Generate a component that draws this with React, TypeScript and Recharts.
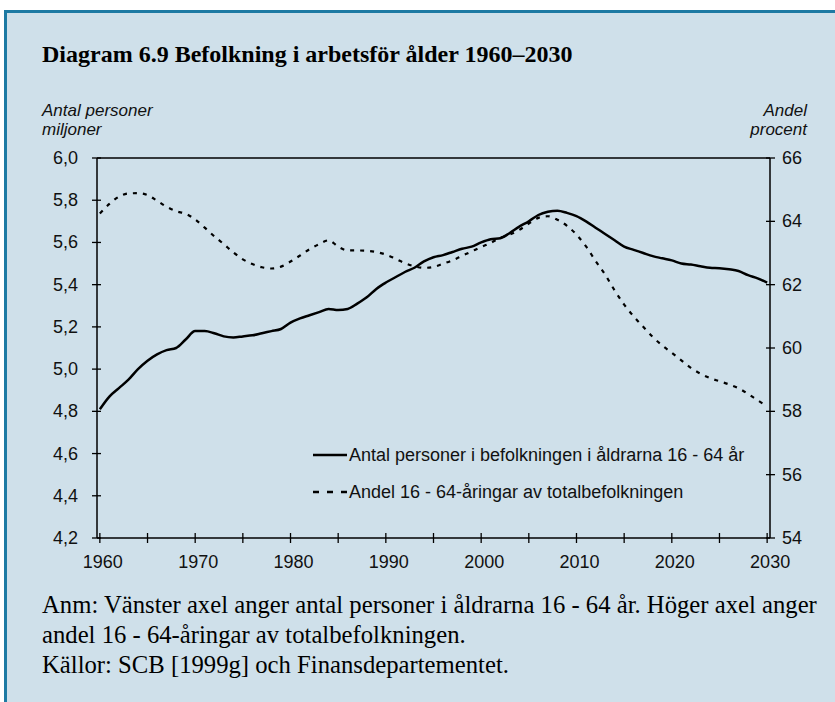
import React from 'react';
import { Legend, Line, LineChart, ReferenceLine, XAxis, YAxis } from 'recharts';

const years = [
  1960, 1961, 1962, 1963, 1964, 1965, 1966, 1967, 1968, 1969,
  1970, 1971, 1972, 1973, 1974, 1975, 1976, 1977, 1978, 1979,
  1980, 1981, 1982, 1983, 1984, 1985, 1986, 1987, 1988, 1989,
  1990, 1991, 1992, 1993, 1994, 1995, 1996, 1997, 1998, 1999,
  2000, 2001, 2002, 2003, 2004, 2005, 2006, 2007, 2008, 2009,
  2010, 2011, 2012, 2013, 2014, 2015, 2016, 2017, 2018, 2019,
  2020, 2021, 2022, 2023, 2024, 2025, 2026, 2027, 2028, 2029,
  2030,
];

// miljoner personer 16-64 år (vänster axel)
const antalPersoner = [
  4.81, 4.87, 4.91, 4.95, 5.0, 5.04, 5.07, 5.09, 5.1, 5.14,
  5.18, 5.18, 5.17, 5.155, 5.15, 5.155, 5.16, 5.17, 5.18, 5.19,
  5.22, 5.24, 5.255, 5.27, 5.285, 5.28, 5.285, 5.31, 5.34, 5.38,
  5.41, 5.435, 5.46, 5.48, 5.51, 5.53, 5.54, 5.555, 5.57, 5.58,
  5.6, 5.615, 5.62, 5.645, 5.675, 5.7, 5.73, 5.745, 5.75, 5.74,
  5.725, 5.7, 5.67, 5.64, 5.61, 5.58, 5.565, 5.55, 5.535, 5.525,
  5.515, 5.5, 5.495, 5.487, 5.48, 5.478, 5.473, 5.465, 5.445, 5.43,
  5.41,
];

// andel i procent av totalbefolkningen (höger axel)
const andelProcent = [
  64.25, 64.55, 64.78, 64.88, 64.89, 64.83, 64.65, 64.46, 64.32, 64.24,
  64.06, 63.8, 63.53, 63.28, 63.02, 62.8, 62.65, 62.55, 62.51, 62.57,
  62.73, 62.92, 63.12, 63.28, 63.4, 63.2, 63.08, 63.08, 63.07, 63.03,
  62.95, 62.82, 62.68, 62.58, 62.53, 62.56, 62.66, 62.77, 62.91, 63.05,
  63.19, 63.32, 63.48, 63.58, 63.73, 63.93, 64.11, 64.16, 64.05, 63.86,
  63.58, 63.21, 62.75, 62.32, 61.82, 61.37, 61.0, 60.67, 60.35, 60.08,
  59.85, 59.61, 59.37, 59.19, 59.05, 58.95, 58.85, 58.73, 58.55, 58.35,
  58.16,
];

const xTicks = [1960, 1965, 1970, 1975, 1980, 1985, 1990, 1995, 2000, 2005, 2010, 2015, 2020, 2025, 2030];
const leftTicks = [4.2, 4.4, 4.6, 4.8, 5.0, 5.2, 5.4, 5.6, 5.8, 6.0];
const rightTicks = [54, 56, 58, 60, 62, 64, 66];

const seriesNames = [
  'Antal personer i befolkningen i åldrarna 16 - 64 år',
  'Andel 16 - 64-åringar av totalbefolkningen',
];

const data = years.map((year, i) => ({
  year,
  antal: antalPersoner[i],
  andel: andelProcent[i],
}));

const SANS = '"Liberation Sans", Arial, sans-serif';
const SERIF = '"Liberation Serif", "Times New Roman", serif';
const BG = '#cfe0ea';
const FRAME = '#1d7aa3';

const XTick = (props: any) => {
  const { x, y, payload } = props;
  const showLabel = payload.value % 10 === 0;
  return (
    <g>
      <line x1={x} x2={x} y1={y - 5} y2={y + 5} stroke="#000" strokeWidth={1.3} />
      {showLabel && (
        <text x={x + 3} y={y + 30} textAnchor="middle" fontSize={18} fontFamily={SANS} fill="#111">
          {payload.value}
        </text>
      )}
    </g>
  );
};

const LeftTick = (props: any) => {
  const { x, y, payload } = props;
  return (
    <g>
      <line x1={x - 5} x2={x + 4} y1={y} y2={y} stroke="#000" strokeWidth={1.3} />
      <text x={x - 19} y={y + 6} textAnchor="end" fontSize={18} fontFamily={SANS} fill="#111">
        {payload.value.toFixed(1).replace('.', ',')}
      </text>
    </g>
  );
};

const RightTick = (props: any) => {
  const { x, y, payload } = props;
  return (
    <g>
      <line x1={x - 4} x2={x + 5} y1={y} y2={y} stroke="#000" strokeWidth={1.3} />
      <text x={x + 12} y={y + 6} textAnchor="start" fontSize={18} fontFamily={SANS} fill="#111">
        {payload.value}
      </text>
    </g>
  );
};

const LegendBox = () => (
  <div style={{ fontFamily: SANS, fontSize: 18, color: '#111' }}>
    <div style={{ display: 'flex', alignItems: 'center', height: 20 }}>
      <svg width={36} height={10}>
        <line x1={0} x2={34} y1={5} y2={5} stroke="#000" strokeWidth={2.5} />
      </svg>
      <span>{seriesNames[0]}</span>
    </div>
    <div style={{ display: 'flex', alignItems: 'center', height: 20, marginTop: 17 }}>
      <svg width={36} height={10}>
        <line x1={0} x2={34} y1={5} y2={5} stroke="#000" strokeWidth={2.5} strokeDasharray="6 8" />
      </svg>
      <span>{seriesNames[1]}</span>
    </div>
  </div>
);

const axisTitle: React.CSSProperties = {
  position: 'absolute',
  top: 101,
  fontFamily: SANS,
  fontStyle: 'italic',
  fontSize: 17,
  lineHeight: '19px',
  color: '#111',
};

export default function App() {
  return (
    <div style={{ position: 'relative', width: 835, height: 702, overflow: 'hidden', background: '#fff' }}>
      <style>{'body{margin:0}'}</style>
      <div
        style={{
          position: 'absolute',
          left: 4,
          top: 10,
          width: 900,
          height: 800,
          background: BG,
          borderLeft: `3px solid ${FRAME}`,
          borderTop: `3px solid ${FRAME}`,
        }}
      />
      <div
        style={{
          position: 'absolute',
          left: 42,
          top: 42,
          fontFamily: SERIF,
          fontWeight: 'bold',
          fontSize: 24,
          lineHeight: 1,
          color: '#000',
          whiteSpace: 'nowrap',
        }}
      >
        Diagram 6.9 Befolkning i arbetsför ålder 1960–2030
      </div>
      <div style={{ ...axisTitle, left: 42 }}>
        Antal personer
        <br />
        miljoner
      </div>
      <div style={{ ...axisTitle, right: 835 - 807, textAlign: 'right' }}>
        Andel
        <br />
        procent
      </div>

      <div style={{ position: 'absolute', left: 0, top: 0 }}>
        <LineChart width={835} height={600} data={data} margin={{ top: 158, right: 0, bottom: 32, left: 0 }}>
          <XAxis
            dataKey="year"
            type="number"
            domain={[1959.7, 2030.3]}
            ticks={xTicks}
            interval={0}
            height={30}
            stroke="#000"
            strokeWidth={1.5}
            tickLine={false}
            tickSize={0}
            tickMargin={0}
            tick={XTick}
            allowDataOverflow
          />
          <YAxis
            yAxisId="left"
            orientation="left"
            domain={[4.2, 6.0]}
            ticks={leftTicks}
            interval={0}
            width={97}
            stroke="#000"
            strokeWidth={1.5}
            tickLine={false}
            tickSize={0}
            tickMargin={0}
            tick={LeftTick}
            allowDataOverflow
          />
          <YAxis
            yAxisId="right"
            orientation="right"
            domain={[54, 66]}
            ticks={rightTicks}
            interval={0}
            width={65}
            stroke="#000"
            strokeWidth={1.5}
            tickLine={false}
            tickSize={0}
            tickMargin={0}
            tick={RightTick}
            allowDataOverflow
          />
          <ReferenceLine yAxisId="left" y={6.0} stroke="#000" strokeWidth={1.5} />
          <Line
            yAxisId="left"
            dataKey="antal"
            name={seriesNames[0]}
            type="monotone"
            stroke="#000"
            strokeWidth={2.5}
            dot={false}
            isAnimationActive={false}
          />
          <Line
            yAxisId="right"
            dataKey="andel"
            name={seriesNames[1]}
            type="monotone"
            stroke="#000"
            strokeWidth={2.2}
            strokeDasharray="4 6"
            dot={false}
            isAnimationActive={false}
          />
          <Legend
            layout="vertical"
            align="center"
            verticalAlign="middle"
            content={LegendBox}
            wrapperStyle={{ left: 313, top: 445, width: 480 }}
          />
        </LineChart>
      </div>

      <div
        style={{
          position: 'absolute',
          left: 42,
          top: 590,
          fontFamily: SERIF,
          fontSize: 24.7,
          lineHeight: '30px',
          color: '#000',
          whiteSpace: 'nowrap',
        }}
      >
        Anm: Vänster axel anger antal personer i åldrarna 16 - 64 år. Höger axel anger
        <br />
        andel 16 - 64-åringar av totalbefolkningen.
        <br />
        Källor: SCB [1999g] och Finansdepartementet.
      </div>
    </div>
  );
}
